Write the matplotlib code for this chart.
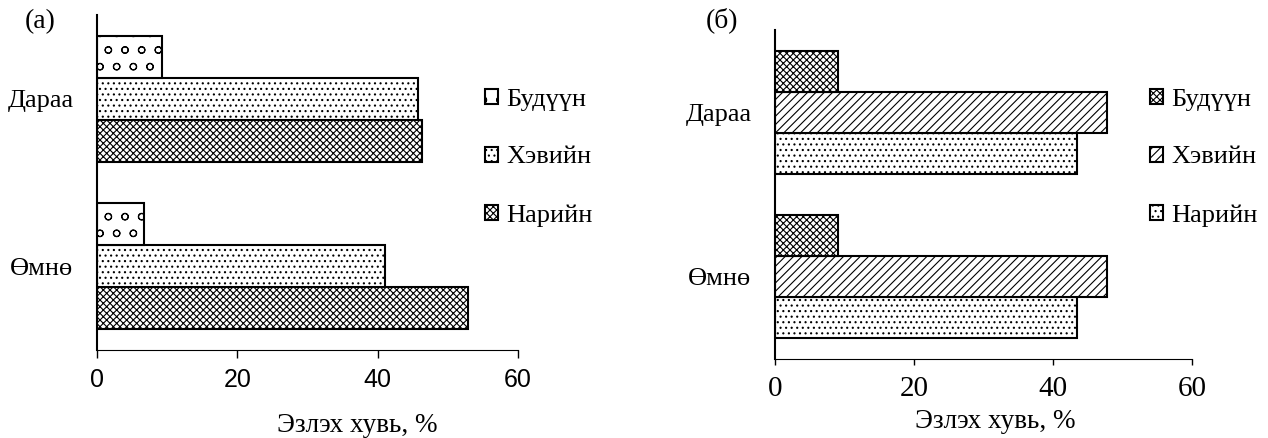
# Эзлэх хувь, two panels
import matplotlib.pyplot as plt
import numpy as np

plt.rcParams['font.family'] = ['Liberation Serif', 'DejaVu Serif']
plt.rcParams['hatch.linewidth'] = 0.8

categories = ['Өмнө', 'Дараа']
series = ['Нарийн', 'Хэвийн', 'Будүүн']

# (а)
a_nariin = [52.9, 46.3]
a_heviin = [41.0, 45.8]
a_buduun = [6.7, 9.2]

# (б)
b_nariin = [43.4, 43.5]
b_heviin = [47.8, 47.8]
b_buduun = [9.0, 9.0]

sans = ['Liberation Sans', 'DejaVu Sans']

fig = plt.figure(figsize=(12.68, 4.38), dpi=100)
ax1 = fig.add_axes([0.0765, 0.2009, 0.332, 0.7649])
ax2 = fig.add_axes([0.6112, 0.1804, 0.329, 0.7511])

y = np.arange(len(categories))
h = 0.25


def draw(ax, vals, hatches, ticksans, ticksize, ticklen, tickpad):
    rects = []
    for i, (v, name) in enumerate(zip(vals, series)):
        r = ax.barh(y + (i - 1) * h, v, h, label=name, color='white',
                    edgecolor='black', linewidth=1.5, hatch=hatches[i])
        rects.append(r)
    ax.set_xlim(0, 60)
    ax.set_ylim(-0.5, 1.5)
    ax.set_xticks([0, 20, 40, 60])
    ax.set_yticks(y)
    ax.set_yticklabels(categories, fontsize=19)
    for lab in ax.get_xticklabels():
        if ticksans:
            lab.set_family(sans)
        lab.set_fontsize(ticksize)
    ax.tick_params(axis='y', length=0, pad=17)
    ax.tick_params(axis='x', length=ticklen, width=1, direction='out', pad=tickpad)
    ax.spines['top'].set_visible(False)
    ax.spines['right'].set_visible(False)
    ax.spines['left'].set_linewidth(1.5)
    ax.spines['bottom'].set_linewidth(0.8)
    return rects


r1 = draw(ax1, [a_nariin, a_heviin, a_buduun], ['xxxxx', '...', 'o'], True, 18, 6, 7)
r2 = draw(ax2, [b_nariin, b_heviin, b_buduun], ['...', '////', 'xxxxx'], False, 21, 4.5, 8)

fig.text(357 / 1268, 1 - 425 / 438, 'Эзлэх хувь, %', fontsize=19.5, ha='center', va='center')
fig.text(995 / 1268, 1 - 422 / 438, 'Эзлэх хувь, %', fontsize=19.5, ha='center', va='center')

for ax, rects, xpos in [(ax1, r1, 0.3825), (ax2, r2, 0.907)]:
    fig.legend(rects[::-1], series[::-1], loc='center left', bbox_to_anchor=(xpos, 0.640),
               frameon=False, fontsize=19, handlelength=0.5, handleheight=0.5,
               handletextpad=0.3, labelspacing=1.35, borderpad=0, borderaxespad=0)

fig.text(40 / 1268, 1 - 22 / 438, '(а)', fontsize=20, ha='center', va='center')
fig.text(722 / 1268, 1 - 20 / 438, '(б)', fontsize=20, ha='center', va='center')

plt.savefig('out.png', dpi=100)
